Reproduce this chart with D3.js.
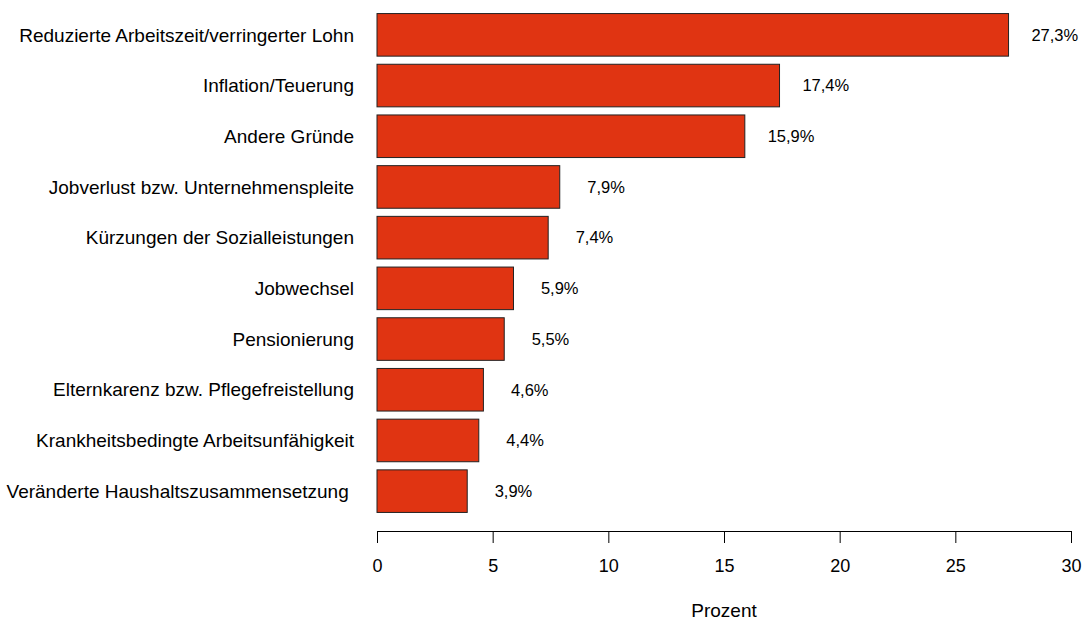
<!DOCTYPE html>
<html>
<head>
<meta charset="utf-8">
<script src="https://cdn.jsdelivr.net/npm/d3@7"></script>
<style>
    body { margin: 0; background: #fff; }
    svg { font-family: "Liberation Sans", Arial, sans-serif; }
    .cat { white-space: pre; }
</style>
</head>
<body>
<svg id="chart" width="1084" height="619"></svg>
<script>
// data
const categories = [
    "Reduzierte Arbeitszeit/verringerter Lohn",
    "Inflation/Teuerung",
    "Andere Gründe",
    "Jobverlust bzw. Unternehmenspleite",
    "Kürzungen der Sozialleistungen",
    "Jobwechsel",
    "Pensionierung",
    "Elternkarenz bzw. Pflegefreistellung",
    "Krankheitsbedingte Arbeitsunfähigkeit",
    "Veränderte Haushaltszusammensetzung "
];
const values = [27.3, 17.4, 15.9, 7.9, 7.4, 5.9, 5.5, 4.6, 4.4, 3.9];
const valueLabels = ["27,3%", "17,4%", "15,9%", "7,9%", "7,4%", "5,9%", "5,5%", "4,6%", "4,4%", "3,9%"];
const xTicks = [0, 5, 10, 15, 20, 25, 30];
const xTitle = "Prozent";

const svg = d3.select("#chart");

const x = d3.scaleLinear().domain([0, 30]).range([377, 1071]);
const y = d3.scaleBand().domain(categories).range([9.5, 516.5]).paddingInner(0.16).paddingOuter(0.08);

// bars
svg.selectAll("rect.bar")
    .data(values)
    .enter().append("rect")
    .attr("class", "bar")
    .attr("x", x(0))
    .attr("y", (d, i) => y(categories[i]))
    .attr("width", d => x(d) - x(0))
    .attr("height", y.bandwidth())
    .attr("fill", "#e03412")
    .attr("stroke", "#222")
    .attr("stroke-width", 1);

// value labels, centred two units right of the bar end
svg.selectAll("text.val")
    .data(values)
    .enter().append("text")
    .attr("class", "val")
    .attr("x", d => x(d + 2))
    .attr("y", (d, i) => y(categories[i]) + y.bandwidth() / 2)
    .attr("dy", "0.35em")
    .attr("text-anchor", "middle")
    .attr("font-size", 16.5)
    .text((d, i) => valueLabels[i]);

// category labels
svg.selectAll("text.cat")
    .data(categories)
    .enter().append("text")
    .attr("class", "cat")
    .attr("x", 354)
    .attr("y", d => y(d) + y.bandwidth() / 2)
    .attr("dy", "0.35em")
    .attr("text-anchor", "end")
    .attr("font-size", 19)
    .text(d => d);

// x axis
const axis = svg.append("g")
    .attr("transform", "translate(0,531)")
    .call(d3.axisBottom(x).tickValues(xTicks).tickSize(12).tickPadding(16).tickFormat(d3.format("d")));
axis.select(".domain").attr("stroke", "#000").attr("d", `M${x(0)},0.5H${x(30)}`);
axis.selectAll(".tick line").attr("stroke", "#000");
axis.selectAll(".tick text")
    .attr("font-size", 18)
    .attr("font-family", "Liberation Sans, Arial, sans-serif")
    .attr("fill", "#000");

svg.append("text")
    .attr("x", x(15))
    .attr("y", 616.5)
    .attr("text-anchor", "middle")
    .attr("font-size", 19)
    .text(xTitle);
</script>
</body>
</html>
